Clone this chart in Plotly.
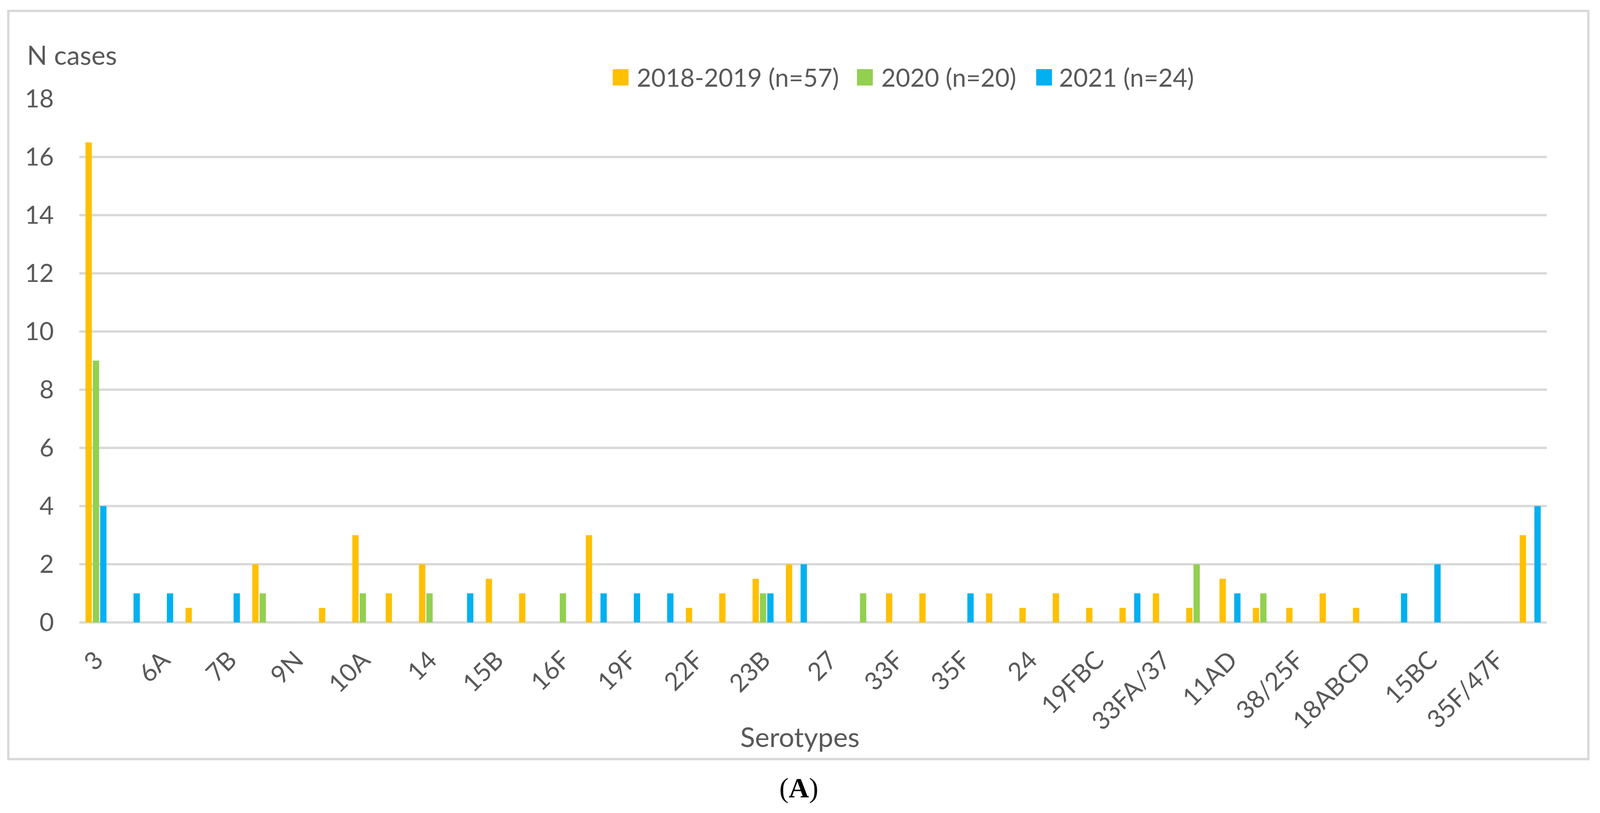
import plotly.graph_objects as go

# serotype categories (only every other one is labelled on the axis)
serotypes = ["3", "4", "6A", "6C", "7B", "8", "9N", "9V", "10A", "11A",
             "14", "15A", "15B", "15C", "16F", "17F", "19F", "19A", "22F", "23A",
             "23B", "23F", "27", "31", "33F", "34", "35F", "35B", "24", "7FA",
             "19FBC", "9VA", "33FA/37", "12FAB", "11AD", "22FA", "38/25F", "10FBC", "18ABCD", "6ABCD",
             "15BC", "7CB/40", "35F/47F", "NT"]

cases_2018_2019 = [16.5, 0, 0, 0.5, 0, 2, 0, 0.5, 3, 1,
                   2, 0, 1.5, 1, 0, 3, 0, 0, 0.5, 1,
                   1.5, 2, 0, 0, 1, 1, 0, 1, 0.5, 1,
                   0.5, 0.5, 1, 0.5, 1.5, 0.5, 0.5, 1, 0.5, 0,
                   0, 0, 0, 3]
cases_2020 = [9, 0, 0, 0, 0, 1, 0, 0, 1, 0,
              1, 0, 0, 0, 1, 0, 0, 0, 0, 0,
              1, 0, 0, 1, 0, 0, 0, 0, 0, 0,
              0, 0, 0, 2, 0, 1, 0, 0, 0, 0,
              0, 0, 0, 0]
cases_2021 = [4, 1, 1, 0, 1, 0, 0, 0, 0, 0,
              0, 1, 0, 0, 0, 1, 1, 1, 0, 0,
              1, 2, 0, 0, 0, 0, 1, 0, 0, 0,
              0, 1, 0, 0, 1, 0, 0, 0, 0, 1,
              2, 0, 0, 4]

series_names = ["2018-2019 (n=57)", "2020 (n=20)", "2021 (n=24)"]
colors = ["#FFC000", "#92D050", "#00B0F0"]

# the browser window is 4096 wide, the reference 4251: layout positions below are
# measured on the reference and scaled horizontally
RW = 4251
W, H = 4096, 2082
SX = W / RW
L = round(211 * SX)
R = W - round(4110 * SX)
T, B = 253, H - 1594
FONT = "Lato"
GREY = "#595959"
GRID = "#D9D9D9"


def px_x(ref_px):
    return (ref_px * SX - L) / (W - L - R)


def px_y(py):
    return (H - B - py) / (H - T - B)


fig = go.Figure()
for name, vals, col in zip(series_names, [cases_2018_2019, cases_2020, cases_2021], colors):
    fig.add_trace(go.Bar(x=serotypes, y=vals, name=name, showlegend=False,
                         marker=dict(color=col, line=dict(width=0))))

fig.update_layout(
    width=W, height=H,
    margin=dict(l=L, r=R, t=T, b=B, autoexpand=False),
    paper_bgcolor="white", plot_bgcolor="white",
    font=dict(family=FONT, size=64, color=GREY),
    barmode="group", bargap=0.34, bargroupgap=0.14,
    showlegend=False,
)

fig.update_xaxes(type="category", categoryorder="array", categoryarray=serotypes,
                 tickmode="array", tickvals=serotypes[::2], ticktext=serotypes[::2],
                 tickangle=-45, showgrid=False, showline=False, zeroline=False,
                 ticks="", ticklabelstandoff=45,
                 tickfont=dict(family=FONT, size=64, color=GREY))
fig.update_yaxes(range=[0, 18], dtick=2, showgrid=True, gridcolor=GRID, gridwidth=6,
                 zeroline=True, zerolinecolor=GRID, zerolinewidth=6,
                 showline=False, ticks="", ticklabelstandoff=64,
                 tickfont=dict(family=FONT, size=64, color=GREY))

# legend drawn as colour squares + labels across the top
legend_swatch_left = [1628, 2277, 2753]
legend_text_left = [1690, 2339, 2812]
for name, col, sx, tx in zip(series_names, colors, legend_swatch_left, legend_text_left):
    fig.add_shape(type="rect", xref="paper", yref="paper",
                  x0=px_x(sx), x1=px_x(sx + 42), y0=px_y(219), y1=px_y(177),
                  line=dict(width=0), fillcolor=col)
    fig.add_annotation(text=name, xref="paper", yref="paper",
                       x=px_x(tx), y=px_y(197), xanchor="left", yanchor="middle",
                       showarrow=False, font=dict(family=FONT, size=64, color=GREY))

# axis titles and panel caption
fig.add_annotation(text="N cases", xref="paper", yref="paper",
                   x=px_x(70), y=px_y(140), xanchor="left", yanchor="middle",
                   showarrow=False, font=dict(family=FONT, size=68, color=GREY))
fig.add_annotation(text="Serotypes", xref="paper", yref="paper",
                   x=px_x(2126), y=px_y(1886), xanchor="center", yanchor="middle",
                   showarrow=False, font=dict(family=FONT, size=70, color=GREY))
fig.add_annotation(text="(<b>A</b>)", xref="paper", yref="paper",
                   x=px_x(2122), y=px_y(2018), xanchor="center", yanchor="middle",
                   showarrow=False, font=dict(family="Liberation Serif", size=72, color="black"))

# chart-area frame
fig.add_shape(type="rect", xref="paper", yref="paper",
              x0=px_x(22), x1=px_x(4220), y0=px_y(1944), y1=px_y(28),
              line=dict(color=GRID, width=6), fillcolor="rgba(0,0,0,0)", layer="below")

fig.write_html("out.html", config={"displayModeBar": False},
               post_script="document.body.style.margin = '0';")
